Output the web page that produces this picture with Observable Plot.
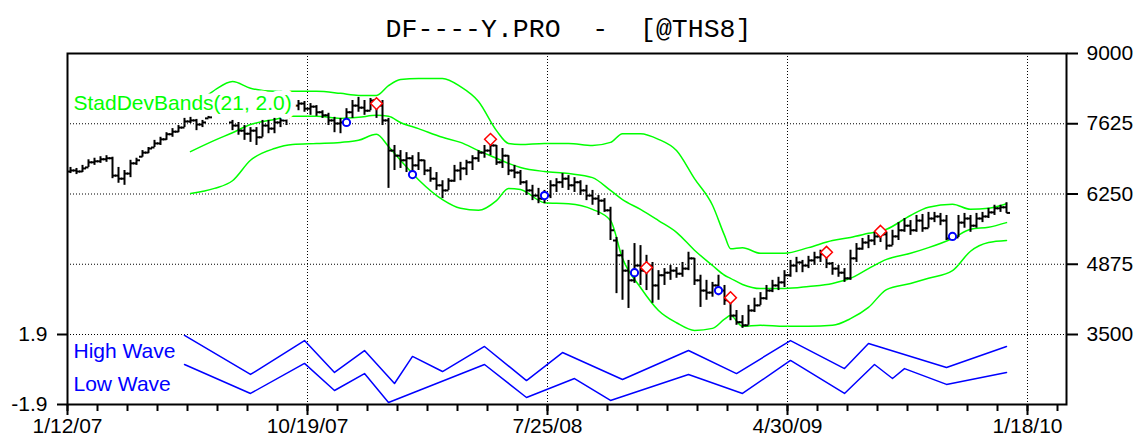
<!DOCTYPE html>
<html>
<head>
<meta charset="utf-8">
<script src="https://cdn.jsdelivr.net/npm/d3@7"></script>
<script src="https://cdn.jsdelivr.net/npm/@observablehq/plot@0.6"></script>
<style>
  html, body { margin: 0; padding: 0; background: white; }
  #wrap { position: relative; width: 1137px; height: 439px; overflow: hidden; }
  #wrap svg { position: absolute; left: 0; top: 0; }
  #title { position: absolute; left: 0; top: 17px; width: 1137px; text-align: center;
           font-family: "Liberation Mono", "DejaVu Sans Mono", monospace; font-size: 26.5px;
           line-height: 1; white-space: pre; color: #000; }
</style>
</head>
<body>
<div id="wrap"><div id="title">DF----Y.PRO  -  [@THS8]</div></div>
<script>
// ---------- weekly price bars (week index 0 = 1/12/07) ----------
const opens = [
  6690,6710,6690,6770,6870,6890,6930,6950,6610,6550,
  6650,6850,6980,7060,7160,7240,7320,7420,7470,7550,
  7670,7690,7610,7730,null,null,null,7650,7590,7490,
  7430,7490,7360,7590,7530,7650,7690,7850,7980,8020,
  7920,7960,7850,7790,7690,7630,7650,7850,7980,7940,
  7880,8080,7980,7690,7100,7000,6910,6950,6810,6910,
  6710,6550,6420,6320,6510,6710,6750,6870,6950,7060,
  7100,7200,6870,7000,6710,6670,6480,6320,6220,6160,
  6220,6420,6480,6550,6420,6480,6320,6220,6160,6120,
  5930,5340,5050,4750,4560,4850,4750,4850,4460,4660,
  4710,4750,4690,4790,4990,4560,4360,4320,4460,4360,
  4170,3870,3740,3680,3970,4070,4210,4360,4460,4520,
  4660,4850,4910,4850,4950,5010,5070,4890,4790,4710,
  4600,4990,5180,5300,5340,5420,5460,5240,5420,5540,
  5630,5540,5730,5580,5770,5810,5730,5380,5400,5690,
  5770,5630,5770,5810,5890,5970,5990];
const highs = [
  6770,6750,6810,6920,6950,6980,7000,6970,6770,6710,
  6910,6950,7100,7160,7300,7360,7450,7530,7590,7730,
  7750,7710,7690,7770,null,null,null,7690,7650,7590,
  7550,7550,7690,7690,7730,7730,7790,8040,8080,8060,
  8020,7980,7880,7830,7750,7730,7920,8080,8140,8080,
  8120,8120,8080,7730,7200,7100,7060,7000,7060,6910,
  6770,6670,6510,6550,6810,6870,6910,7000,7100,7200,
  7300,7200,7140,7000,6810,6710,6510,6420,6360,6320,
  6510,6550,6650,6610,6570,6510,6420,6320,6220,6160,
  5990,5400,5150,4950,5280,5240,5050,4910,4750,4790,
  4850,4810,4910,5110,4990,4660,4560,4520,4660,4460,
  4170,3970,3870,4070,4210,4320,4460,4560,4620,4750,
  4950,5010,4950,5030,5110,5150,5070,4910,4850,4790,
  5150,5280,5380,5440,5500,5540,5500,5540,5690,5770,
  5730,5830,5850,5890,5890,5870,5830,5440,5830,5870,
  5830,5870,5890,5970,6030,6030,6080];
const lows = [
  6650,6630,6670,6770,6810,6850,6870,6550,6460,6420,
  6570,6810,6970,7040,7160,7200,7300,7360,7450,7550,
  7630,7490,7550,7730,null,null,null,7490,7400,7300,
  7260,7200,7360,7430,7430,7550,7590,7850,7880,7850,
  7790,7770,7730,7590,7450,7430,7590,7730,7850,7790,
  7880,7730,7590,6360,6710,6750,6670,6670,6710,6610,
  6480,6320,6160,6320,6480,6510,6610,6710,6870,6950,
  7000,6810,6750,6610,6550,6420,6220,6120,6060,6060,
  6160,6280,6360,6320,6280,6220,6120,6030,5830,5890,
  5340,4300,4170,4010,4500,4460,4360,4110,4170,4460,
  4560,4600,4620,4750,4460,4030,4170,4230,4260,4070,
  3770,3680,3620,3680,3930,4070,4170,4320,4360,4420,
  4620,4710,4710,4790,4850,4910,4790,4660,4620,4520,
  4560,4910,5150,5180,5240,5300,5150,5240,5340,5500,
  5440,5500,5500,5580,5690,5630,5340,5340,5400,5580,
  5500,5580,5690,5770,5830,5890,5870];
const closes = [
  6710,6690,6750,6870,6890,6930,6950,6610,6550,6650,
  6850,6910,7060,7140,7240,7320,7420,7470,7550,7670,
  7690,7610,7650,7750,null,null,null,7590,7490,7430,
  7490,7360,7590,7530,7650,7690,7750,7980,8020,7920,
  7960,7850,7790,7690,7630,7650,7850,7980,7940,7880,
  8080,7980,7690,7100,7000,6910,6950,6810,6910,6710,
  6550,6420,6320,6510,6710,6750,6870,6950,7060,7100,
  7200,6870,7000,6710,6670,6480,6320,6220,6160,6220,
  6420,6480,6550,6420,6480,6320,6220,6160,6120,5930,
  5540,5050,4750,4560,4850,4750,4850,4460,4660,4710,
  4750,4690,4790,4990,4560,4360,4320,4460,4360,4170,
  3870,3740,3680,3970,4070,4210,4360,4460,4520,4660,
  4850,4910,4850,4950,5010,5070,4890,4790,4710,4600,
  4990,5180,5300,5340,5420,5460,5240,5420,5540,5630,
  5540,5730,5580,5770,5810,5730,5380,5400,5690,5770,
  5630,5770,5810,5890,5970,5990,5880];

// ---------- StadDevBands(21, 2.0) ----------
const bandIdx = [20,24,27,30,34,37,41,45,48,51,53,55,58,62,65,68,71,73,75,79,83,87,90,92,95,98,101,104,107,109,110,112,115,119,123,127,130,133,136,140,143,147,150,153,156];
const upperBand = [7920,8280,8450,8320,8260,8260,8260,8220,8180,8180,8370,8490,8510,8510,8350,8060,7490,7240,7220,7240,7240,7200,7260,7430,7430,7320,7100,6550,6030,5440,5180,5200,5090,5090,5200,5340,5400,5480,5560,5830,5990,6050,5950,5970,6060];
const middleBand = [7080,7300,7450,7610,7710,7770,7770,7730,7750,7790,7770,7650,7530,7360,7260,7100,6950,6850,6770,6690,6650,6570,6320,6140,5950,5730,5500,5150,4850,4660,4600,4480,4400,4400,4440,4500,4600,4790,4970,5090,5200,5380,5560,5600,5690];
const lowerBand = [6260,6360,6510,6910,7140,7220,7240,7260,7300,7420,7180,6910,6530,6140,5970,5930,6120,6360,6340,6080,6060,5950,5730,4990,4420,3970,3730,3580,3620,3800,3870,3660,3680,3660,3660,3680,3810,4030,4380,4500,4600,4750,5130,5300,5340];

// ---------- signal markers ----------
const diamondIdx = [51,70,96,110,126,135];
const diamondPrice = [8020,7320,4810,4220,5110,5520];
const circleIdx = [46,57,79,94,108,147];
const circlePrice = [7650,6630,6220,4710,4360,5420];

// ---------- lower panel waves ----------
const highWaveIdx = [19,30,39,44,49,54,57,62,69,76,82,92,103,111,120,129,133,146,156];
const highWave = [1.85,-0.27,1.57,-0.16,1.03,-0.76,0.71,-0.11,1.25,-0.60,0.92,-0.54,1.03,-0.22,1.57,0.05,1.41,0.11,1.25];
const lowWaveIdx = [19,30,39,44,49,53,69,76,84,90,103,112,120,129,134,137,139,146,156];
const lowWave = [0.27,-1.30,0.33,-1.14,-0.22,-1.79,0.27,-1.52,-0.49,-1.68,-0.27,-1.30,0.49,-1.30,0.27,-0.49,0.05,-0.81,-0.16];

// ---------- axes ----------
const xDomain = [0, 166.5];
const xMajorTicks = [0, 40, 80, 120, 160];
const xTickLabels = ["1/12/07", "10/19/07", "7/25/08", "4/30/09", "1/18/10"];
const xMinorTicks = d3.range(0, 166, 5);
const priceDomain = [2130, 9000];
const priceTicks = [3500, 4875, 6250, 7625, 9000];
const waveDomain = [-1.9, 1.9];
const waveTicks = [-1.9, 1.9];

// ---------- build tables ----------
const pos = i => i + 0.5; // bar centred in its week slot
const rows = opens.map((o, i) => ({x: pos(i), open: o, high: highs[i], low: lows[i], close: closes[i]}))
  .filter(d => d.close != null);
const bands = bandIdx.map((b, k) => ({x: pos(b), upper: upperBand[k], middle: middleBand[k], lower: lowerBand[k]}));
const diamonds = diamondIdx.map((b, k) => ({x: pos(b), y: diamondPrice[k]}));
const circles = circleIdx.map((b, k) => ({x: pos(b), y: circlePrice[k]}));
const hw = highWaveIdx.map((b, k) => ({x: pos(b), y: highWave[k]}));
const lw = lowWaveIdx.map((b, k) => ({x: pos(b), y: lowWave[k]}));

const leftTick = {draw(ctx) { ctx.moveTo(-3.5, 0); ctx.lineTo(0, 0); }};
const rightTick = {draw(ctx) { ctx.moveTo(0, 0); ctx.lineTo(3.5, 0); }};

const green = "#00ff00";
const blue = "#0000ff";
const dotted = {stroke: "black", strokeOpacity: 1, strokeDasharray: "1,2", strokeWidth: 1};
const baseStyle = {fontFamily: "'Liberation Sans', Arial, sans-serif", fontSize: "21px", color: "black", background: "transparent"};

const main = Plot.plot({
  width: 1137, height: 439,
  marginTop: 53, marginBottom: 35, marginLeft: 67, marginRight: 71,
  x: {domain: xDomain, axis: null},
  y: {domain: priceDomain, axis: null},
  style: baseStyle,
  marks: [
    Plot.gridY(priceTicks.slice(0, 4), dotted),
    Plot.gridX(xMajorTicks.slice(1), dotted),
    Plot.line(bands, {x: "x", y: "upper", stroke: green, strokeWidth: 1.5, curve: "monotone-x"}),
    Plot.line(bands, {x: "x", y: "middle", stroke: green, strokeWidth: 1.5, curve: "monotone-x"}),
    Plot.line(bands, {x: "x", y: "lower", stroke: green, strokeWidth: 1.5, curve: "monotone-x"}),
    Plot.ruleX(rows, {x: "x", y1: "low", y2: "high", stroke: "black", strokeWidth: 2}),
    Plot.dot(rows, {x: "x", y: "open", symbol: leftTick, stroke: "black", strokeWidth: 2, fill: "none"}),
    Plot.dot(rows, {x: "x", y: "close", symbol: rightTick, stroke: "black", strokeWidth: 2, fill: "none"}),
    Plot.dot(diamonds, {x: "x", y: "y", symbol: "diamond2", r: 5.3, stroke: "red", strokeWidth: 1.5, fill: "white"}),
    Plot.dot(circles, {x: "x", y: "y", symbol: "circle", r: 3.6, stroke: blue, strokeWidth: 2, fill: "white"}),
    Plot.text(["StadDevBands(21, 2.0)"], {frameAnchor: "top-left", dx: 6, dy: 42, fill: green,
      stroke: "white", strokeWidth: 11, paintOrder: "stroke"}),
    Plot.frame({stroke: "black", strokeWidth: 2}),
    Plot.axisY(priceTicks, {anchor: "right", label: null, tickSize: 11, tickPadding: 9, strokeWidth: 2,
      tickFormat: d => String(d)}),
    Plot.axisX(xMinorTicks, {anchor: "bottom", label: null, tickSize: 7, strokeWidth: 2, tickFormat: () => ""}),
    Plot.axisX(xMajorTicks, {anchor: "bottom", label: null, tickSize: 11, tickPadding: 3, strokeWidth: 2,
      tickFormat: d => xTickLabels[xMajorTicks.indexOf(d)]})
  ]
});

const lower = Plot.plot({
  width: 1137, height: 439,
  marginTop: 334, marginBottom: 35, marginLeft: 67, marginRight: 71,
  x: {domain: xDomain, axis: null},
  y: {domain: waveDomain, axis: null},
  style: baseStyle,
  marks: [
    Plot.line(hw, {x: "x", y: "y", stroke: blue, strokeWidth: 1.5}),
    Plot.line(lw, {x: "x", y: "y", stroke: blue, strokeWidth: 1.5}),
    Plot.text(["High Wave"], {frameAnchor: "top-left", dx: 6, dy: 9, fill: blue}),
    Plot.text(["Low Wave"], {frameAnchor: "top-left", dx: 6, dy: 42, fill: blue}),
    Plot.axisY(waveTicks, {anchor: "left", label: null, tickSize: 10, tickPadding: 10, strokeWidth: 2,
      tickFormat: d => d.toFixed(1)})
  ]
});

const wrap = document.getElementById("wrap");
wrap.insertBefore(main, wrap.firstChild);
wrap.insertBefore(lower, main.nextSibling);
</script>
</body>
</html>
